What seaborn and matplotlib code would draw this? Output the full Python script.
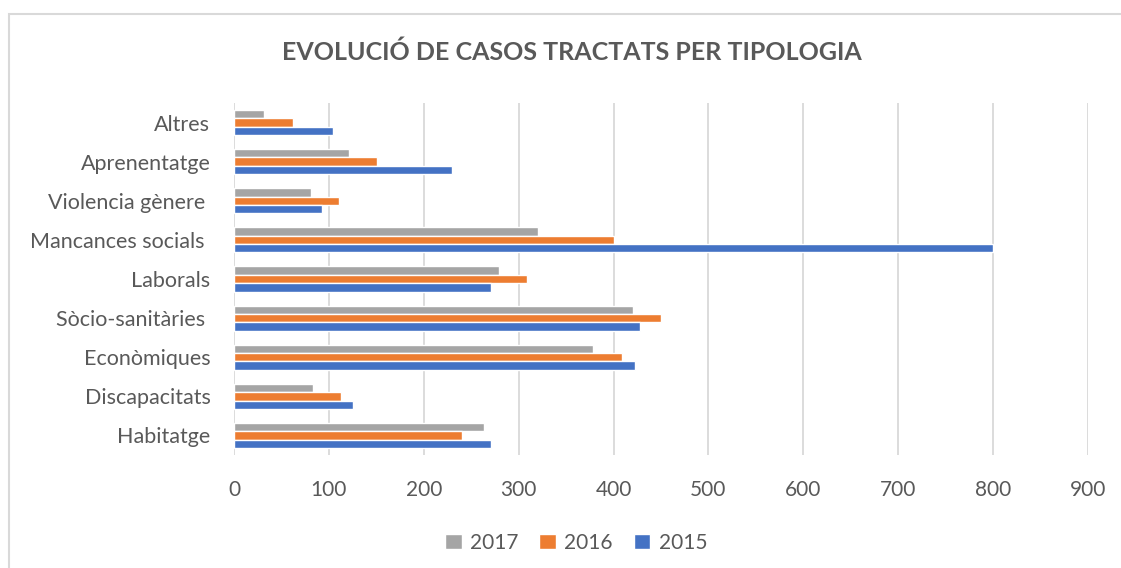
import pandas as pd
import matplotlib.pyplot as plt
import seaborn as sns
from matplotlib.patches import Rectangle

# Categories, top to bottom as they appear in the chart
categories = ["Altres", "Aprenentatge", "Violencia gènere ", "Mancances socials ",
              "Laborals", "Sòcio-sanitàries ", "Econòmiques", "Discapacitats", "Habitatge"]
years = ["2017", "2016", "2015"]

cases_2017 = [32, 121, 81, 320, 279, 420, 378, 83, 263]
cases_2016 = [62, 151, 111, 400, 309, 450, 409, 113, 240]
cases_2015 = [104, 230, 93, 800, 271, 428, 423, 125, 271]

colors = ["#A5A5A5", "#ED7D31", "#4472C4"]
text_color = "#595959"

rows = []
for year, vals in zip(years, [cases_2017, cases_2016, cases_2015]):
    for cat, v in zip(categories, vals):
        rows.append({"Tipologia": cat, "Any": year, "Casos": v})
df = pd.DataFrame(rows)

sns.set_theme(style="white")
plt.rcParams['font.family'] = ['Lato', 'DejaVu Sans']

fig = plt.figure(figsize=(11.21, 5.68), dpi=100)
ax = fig.add_axes([234 / 1121, 1 - 455 / 568, (1088 - 234) / 1121, (455 - 103) / 568])

sns.barplot(data=df, y="Tipologia", x="Casos", hue="Any", order=categories,
            hue_order=years, palette=colors, width=0.64, orient="h",
            errorbar=None, ax=ax, saturation=1)

ax.set_xlim(0, 900)
ax.set_xticks(range(0, 1000, 100))
ax.xaxis.grid(True, color="#D9D9D9", linewidth=1.3)
ax.set_axisbelow(True)
for s in ax.spines.values():
    s.set_visible(False)
ax.set_xlabel("")
ax.set_ylabel("")
ax.tick_params(axis="y", length=0, pad=17, labelsize=15.5, labelcolor=text_color)
ax.tick_params(axis="x", length=0, pad=18, labelsize=15, labelcolor=text_color)

leg = ax.legend(loc="upper center", ncol=3, frameon=False, fontsize=15,
                handlelength=0.8, handleheight=0.8, columnspacing=1.0,
                handletextpad=0.4)
leg.set_bbox_to_anchor((576 / 1121, 1 - 514 / 568), transform=fig.transFigure)
for t in leg.get_texts():
    t.set_color(text_color)

fig.text(572 / 1121, 1 - 52 / 568, "EVOLUCIÓ DE CASOS TRACTATS PER TIPOLOGIA",
         ha="center", va="center", fontsize=18, fontweight="bold", color=text_color)

# light chart-area border
fig.patches.append(Rectangle((8.5 / 1121, -0.1), 1.2, 1 - 14.5 / 568 + 0.1,
                             transform=fig.transFigure, fill=False,
                             edgecolor="#D9D9D9", linewidth=1.5))

fig.savefig("out.png", dpi=100)
